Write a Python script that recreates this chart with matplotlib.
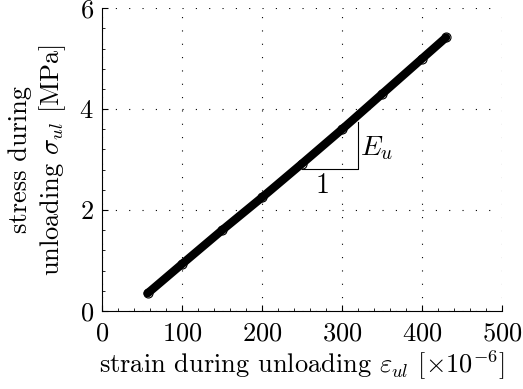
import matplotlib
matplotlib.use("Agg")
import matplotlib.pyplot as plt
from matplotlib.ticker import AutoMinorLocator

plt.rcParams["font.family"] = "cmr10"
plt.rcParams["mathtext.fontset"] = "cm"
plt.rcParams["axes.formatter.use_mathtext"] = True

# unloading data
strain = [57, 100, 150, 200, 250, 300, 350, 400, 430]
stress = [0.35, 0.93, 1.60, 2.25, 2.92, 3.60, 4.30, 5.00, 5.42]

# slope triangle corners
tri_x = [250, 320, 320]
tri_y = [2.82, 2.82, 3.75]

xticks = [0, 100, 200, 300, 400, 500]
yticks = [0, 2, 4, 6]

fig = plt.figure(figsize=(5.23, 3.89), dpi=100)
ax = fig.add_axes([0.195, 0.2005, 0.765, 0.7785])

ax.plot(strain, stress, "-", color="black", lw=6, solid_capstyle="round", zorder=3)
ax.plot(strain, stress, "o", color="black", mfc="none", ms=6.5, mew=0.8, zorder=3)

ax.plot(tri_x, tri_y, color="black", lw=0.8, zorder=2)
ax.text(275, 2.48, "1", fontsize=20, ha="center", va="center")
ax.text(322, 3.22, r"$E_u$", fontsize=20, ha="left", va="center")

ax.set_xlim(0, 500)
ax.set_ylim(0, 6)
ax.set_xticks(xticks)
ax.set_yticks(yticks)
ax.xaxis.set_minor_locator(AutoMinorLocator(5))
ax.yaxis.set_minor_locator(AutoMinorLocator(5))
ax.tick_params(which="both", direction="in", labelsize=19)
ax.tick_params(which="major", length=4)
ax.tick_params(which="minor", length=2)
ax.tick_params(axis="x", pad=8)
ax.tick_params(axis="y", pad=6)
ax.spines["top"].set_visible(False)
ax.spines["right"].set_visible(False)
ax.grid(True, linestyle=(0, (1, 11)), color="black", lw=0.8)
ax.set_axisbelow(True)

ax.set_xlabel(r"strain during unloading $\varepsilon_{ul}$ [$\times10^{-6}$]", fontsize=19, labelpad=2)
ax.set_ylabel("stress during\n" + r"unloading $\sigma_{ul}$ [MPa]", fontsize=19, labelpad=8, linespacing=1.25)

fig.savefig("out.png", dpi=100)
